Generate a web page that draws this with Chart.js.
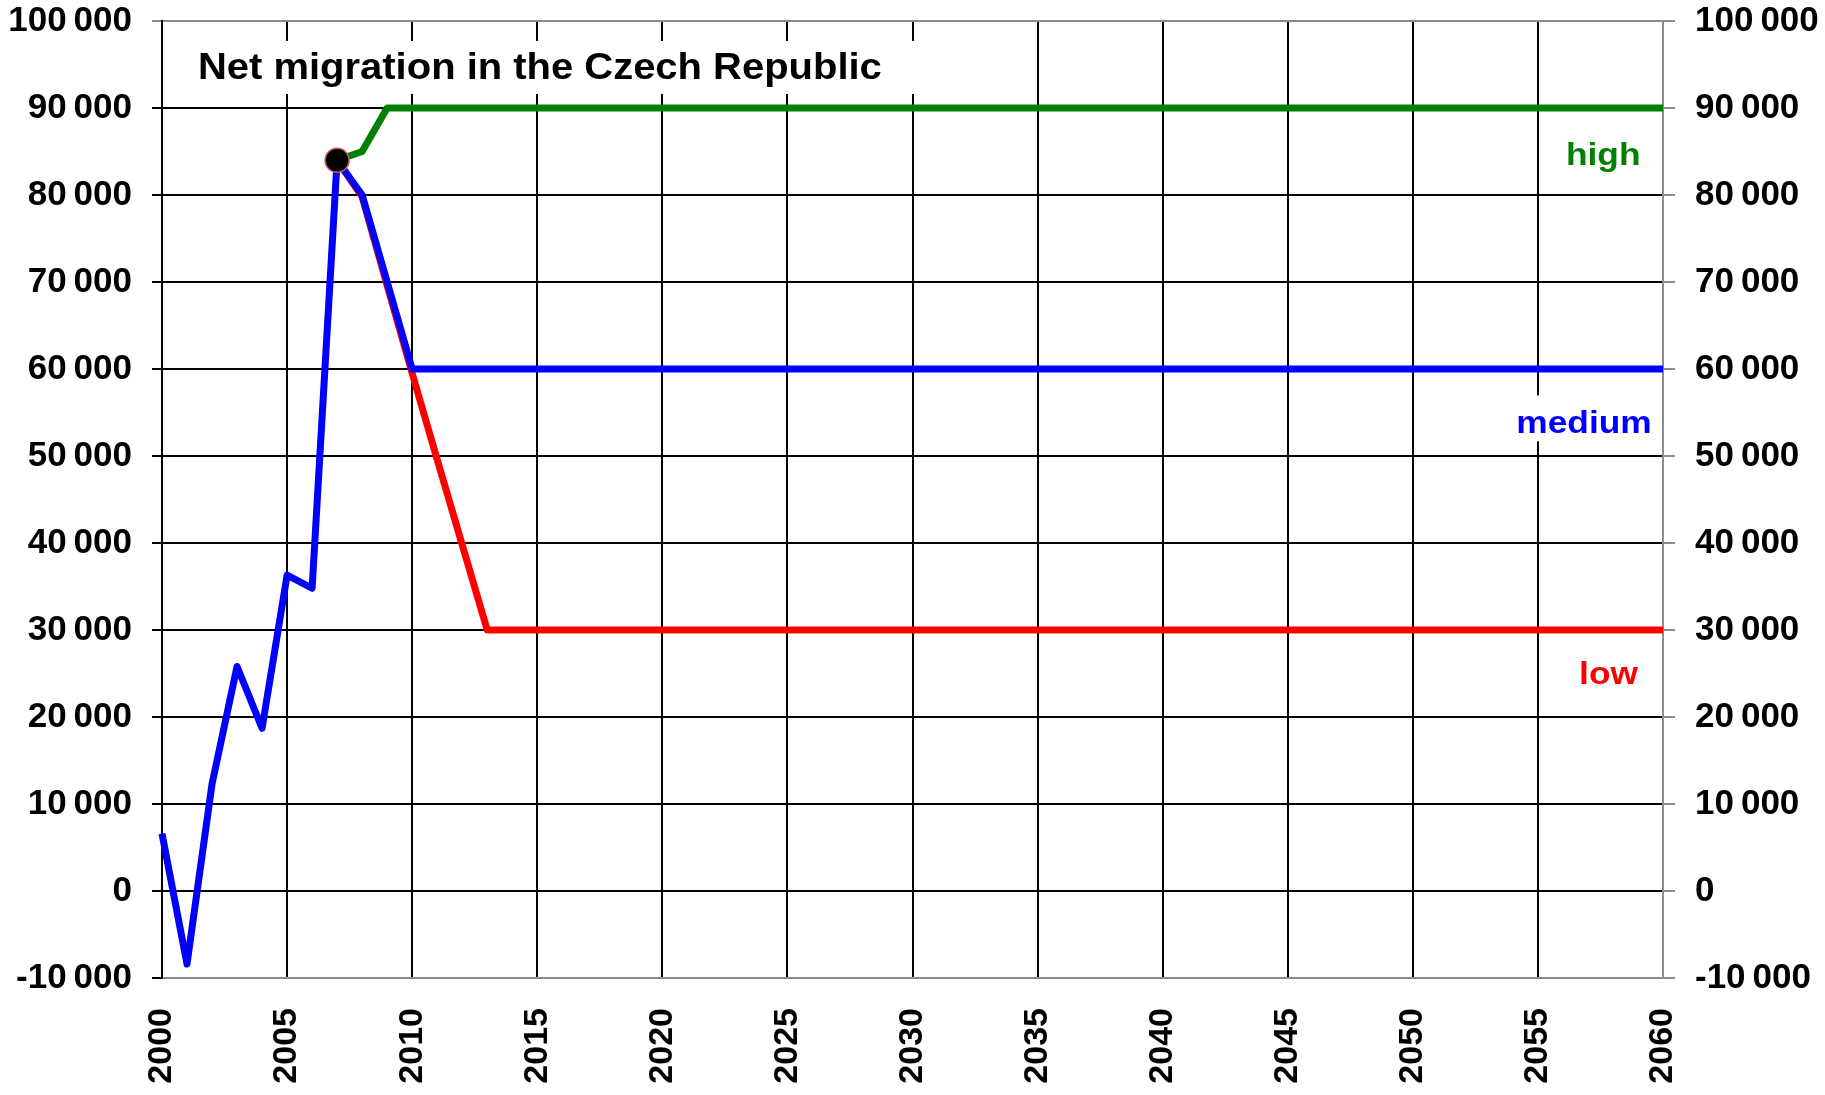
<!DOCTYPE html>
<html>
<head>
<meta charset="utf-8">
<script src="https://cdn.jsdelivr.net/npm/chart.js@4.4.1/dist/chart.umd.min.js"></script>
<style>
  html, body { margin: 0; padding: 0; background: #fff; }
  #wrap { width: 1825px; height: 1095px; position: relative; }
</style>
</head>
<body>
<div id="wrap"><canvas id="chart"></canvas></div>
<script>
// years where the curves change, plus the end of the projection
const years  = [2000, 2001, 2002, 2003, 2004, 2005, 2006, 2007, 2008, 2009, 2010, 2011, 2012, 2013, 2060];
const medium = [6600, -8400, 12300, 25800, 18700, 36300, 34800, 84000, 80000, 70000, 60000, 60000, 60000, 60000, 60000];
const low    = [null, null, null, null, null, null, null, 84000, 79800, 69600, 59500, 49600, 39800, 30000, 30000];
const high   = [null, null, null, null, null, null, null, 84000, 85000, 90000, 90000, 90000, 90000, 90000, 90000];
const lastObserved = { year: 2007, value: 84000 };

const titleText = 'Net migration in the Czech Republic';
const seriesNotes = [
  { text: 'high',   color: '#008000', x: 2059.1,  y: 83500, box: false },
  { text: 'medium', color: '#0000ff', x: 2059.55, y: 52600, box: true },
  { text: 'low',    color: '#ff0000', x: 2059.0,  y: 23800, box: false }
];

const FONT = '"Liberation Sans", Arial, sans-serif';
const GRAY = '#8c8c8c';

function points(vals) {
  return years.map((x, i) => ({ x: x, y: vals[i] })).filter(p => p.y !== null);
}
function fmt(v) {
  const s = String(Math.abs(v)).replace(/\B(?=(\d{3})+(?!\d))/g, '\u2009');
  return (v < 0 ? '-' : '') + s;
}
function series(data, color) {
  return {
    data: points(data),
    borderColor: color,
    backgroundColor: color,
    borderWidth: 7,
    pointRadius: 0,
    borderJoinStyle: 'round',
    tension: 0,
    clip: false
  };
}

// title box and series names, drawn over the grid but under the lines
const notesPlugin = {
  id: 'notes',
  beforeDatasetsDraw(chart) {
    const { ctx, chartArea, scales } = chart;
    ctx.save();
    ctx.font = 'bold 36px ' + FONT;
    const tw = ctx.measureText(titleText).width * 1.11;
    ctx.fillStyle = '#fff';
    ctx.fillRect(chartArea.left + 18, chartArea.top + 20, tw + 52, 53);
    ctx.translate(chartArea.left + 36, chartArea.top + 58);
    ctx.scale(1.11, 1);
    ctx.fillStyle = '#000';
    ctx.textBaseline = 'alphabetic';
    ctx.fillText(titleText, 0, 0);
    ctx.restore();

    seriesNotes.forEach(n => {
      const px = scales.x.getPixelForValue(n.x);
      const py = scales.y.getPixelForValue(n.y);
      ctx.save();
      ctx.font = 'bold 31px ' + FONT;
      const w = ctx.measureText(n.text).width * 1.14;
      if (n.box) {
        ctx.fillStyle = '#fff';
        ctx.fillRect(px - w - 6, py - 38, w + 10, 46);
      }
      ctx.translate(px, py);
      ctx.scale(1.14, 1);
      ctx.fillStyle = n.color;
      ctx.textAlign = 'right';
      ctx.fillText(n.text, 0, 0);
      ctx.restore();
    });
  }
};

const yCommon = {
  type: 'linear',
  min: -10000,
  max: 100000,
  afterFit(scale) {
    scale.width = 162;
    scale.paddingTop = 0;
    scale.paddingBottom = 0;
  },
  ticks: {
    stepSize: 10000,
    color: '#000',
    padding: 20,
    font: { family: FONT, size: 35, weight: 'bold' },
    callback: v => fmt(v)
  }
};

new Chart(document.getElementById('chart'), {
  type: 'line',
  data: {
    datasets: [
      {
        data: [{ x: lastObserved.year, y: lastObserved.value }],
        showLine: false,
        pointRadius: 12,
        pointBorderWidth: 1.5,
        pointBackgroundColor: '#000',
        pointBorderColor: '#d05a5a',
        clip: false
      },
      series(medium, '#0000ff'),
      series(low, '#ff0000'),
      series(high, '#008000')
    ]
  },
  options: {
    responsive: true,
    maintainAspectRatio: false,
    animation: false,
    layout: { padding: { top: 21, left: 0, right: 0, bottom: 0 } },
    plugins: { legend: { display: false }, tooltip: { enabled: false } },
    scales: {
      x: {
        type: 'linear',
        min: 2000,
        max: 2060,
        afterFit(scale) {
          scale.height = 117;
          scale.paddingLeft = 0;
          scale.paddingRight = 0;
        },
        border: { color: GRAY, width: 2 },
        grid: {
          color: c => (c.tick && c.tick.value === 2060 ? GRAY : '#000'),
          lineWidth: 2,
          drawTicks: false
        },
        ticks: {
          stepSize: 5,
          autoSkip: false,
          minRotation: 90,
          maxRotation: 90,
          padding: 30,
          color: '#000',
          font: { family: FONT, size: 34, weight: 'bold' },
          callback: v => String(v)
        }
      },
      y: Object.assign({}, yCommon, {
        position: 'left',
        border: { color: '#000', width: 2 },
        grid: {
          color: c => (c.tick && (c.tick.value === 100000 || c.tick.value === -10000) ? GRAY : '#000'),
          tickColor: c => (c.tick && c.tick.value === 100000 ? GRAY : '#000'),
          lineWidth: 2,
          tickLength: 10
        }
      }),
      y2: Object.assign({}, yCommon, {
        position: 'right',
        border: { color: GRAY, width: 2 },
        grid: {
          drawOnChartArea: false,
          color: GRAY,
          lineWidth: 2,
          tickLength: 12
        }
      })
    }
  },
  plugins: [notesPlugin]
});
</script>
</body>
</html>
